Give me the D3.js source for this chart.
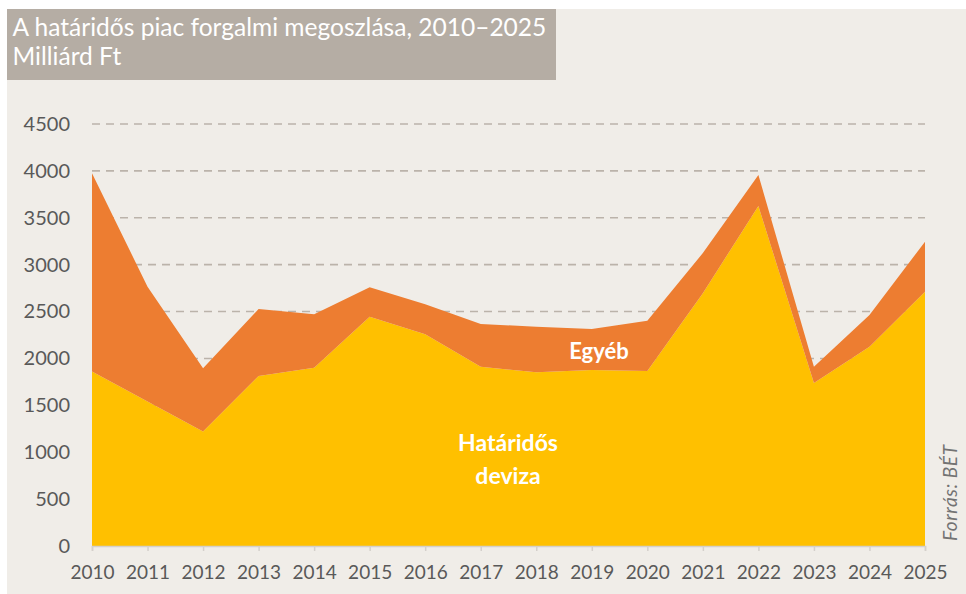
<!DOCTYPE html>
<html>
<head>
<meta charset="utf-8">
<script src="https://cdn.jsdelivr.net/npm/d3@7"></script>
<style>
  body { margin: 0; background: #ffffff; }
  svg { display: block; font-family: Lato, "Noto Sans", sans-serif; }
</style>
</head>
<body>
<script>
// A határidős piac forgalmi megoszlása (milliárd Ft)
const years = [2010, 2011, 2012, 2013, 2014, 2015, 2016, 2017, 2018, 2019, 2020, 2021, 2022, 2023, 2024, 2025]
const hataridosDeviza = [1860, 1540, 1220, 1813, 1901, 2445, 2257, 1912, 1852, 1877, 1866, 2696, 3625, 1738, 2126, 2712]
const egyeb = [2115, 1225, 675, 714, 569, 313, 320, 455, 487, 437, 537, 428, 331, 174, 337, 533]
const yTicks = [0, 500, 1000, 1500, 2000, 2500, 3000, 3500, 4000, 4500]
const titleLines = ["A határidős piac forgalmi megoszlása, 2010–2025", "Milliárd Ft"]

const width = 966, height = 594
const margin = { left: 92, right: 41, top: 124, bottom: 48 }

const svg = d3.select("body").append("svg")
  .attr("width", width)
  .attr("height", height)

// panel background
svg.append("rect")
  .attr("x", 7).attr("y", 9)
  .attr("width", width - 7).attr("height", height - 9)
  .attr("fill", "#f0ede8")

// title box
svg.append("rect")
  .attr("x", 7).attr("y", 9)
  .attr("width", 549).attr("height", 71)
  .attr("fill", "#b5ada4")

let t1 = svg.append("text")
  .attr("x", 12.5).attr("y", 35.7)
  .attr("fill", "#ffffff")
  .attr("font-size", 22)
  .text(titleLines[0])
// fit first line to the width seen in the picture
let fs = 22 * 534 / t1.node().getComputedTextLength()
t1.attr("font-size", fs)

svg.append("text")
  .attr("x", 12.5).attr("y", 65)
  .attr("fill", "#ffffff")
  .attr("font-size", fs)
  .text(titleLines[1])

let x = d3.scaleLinear()
  .domain([years[0], years[years.length - 1]])
  .range([margin.left, width - margin.right])

let y = d3.scaleLinear()
  .domain([0, 4500])
  .range([height - margin.bottom, margin.top])

// gridlines
svg.append("g")
  .selectAll("line")
  .data(yTicks.filter(d => d > 0))
  .enter()
  .append("line")
  .attr("x1", x.range()[0])
  .attr("x2", x.range()[1])
  .attr("y1", d => y(d))
  .attr("y2", d => y(d))
  .attr("stroke", "#bbb3aa")
  .attr("stroke-width", 1.6)
  .attr("stroke-dasharray", "8,6")

// stacked areas
let rows = years.map((yr, i) => ({ year: yr, hatarido: hataridosDeviza[i], egyeb: egyeb[i] }))
let stack = d3.stack().keys(["hatarido", "egyeb"])
let series = stack(rows)
let colors = { hatarido: "#ffc000", egyeb: "#ed7d31" }

let area = d3.area()
  .x(d => x(d.data.year))
  .y0(d => y(d[0]))
  .y1(d => y(d[1]))

svg.append("g")
  .selectAll("path")
  .data(series)
  .enter()
  .append("path")
  .attr("d", area)
  .attr("fill", d => colors[d.key])

// x axis
let xAxis = svg.append("g")
  .attr("transform", `translate(0,${y(0)})`)
  .call(d3.axisBottom(x).tickValues(years).tickFormat(d3.format("d")).tickSize(5).tickPadding(15))
xAxis.selectAll("path, line").attr("stroke", "#d4d0cb").attr("stroke-width", 1.5)
xAxis.selectAll("text").attr("fill", "#595959").attr("font-size", 19).attr("font-family", "Lato, sans-serif")

// y axis labels
let yAxis = svg.append("g")
  .attr("transform", `translate(${margin.left},0)`)
  .call(d3.axisLeft(y).tickValues(yTicks).tickFormat(d3.format("d")).tickSize(0).tickPadding(22))
yAxis.select(".domain").remove()
yAxis.selectAll("text").attr("fill", "#595959").attr("font-size", 20).attr("font-family", "Lato, sans-serif")

// series labels
svg.append("text")
  .attr("x", 599).attr("y", 359)
  .attr("text-anchor", "middle")
  .attr("fill", "#ffffff")
  .attr("font-weight", "bold")
  .attr("font-size", 22)
  .text("Egyéb")

svg.append("text")
  .attr("x", 508).attr("y", 451)
  .attr("text-anchor", "middle")
  .attr("fill", "#ffffff")
  .attr("font-weight", "bold")
  .attr("font-size", 23)
  .text("Határidős")

svg.append("text")
  .attr("x", 508).attr("y", 484)
  .attr("text-anchor", "middle")
  .attr("fill", "#ffffff")
  .attr("font-weight", "bold")
  .attr("font-size", 23)
  .text("deviza")

// source
svg.append("text")
  .attr("transform", "translate(957,541) rotate(-90)")
  .attr("fill", "#737373")
  .attr("font-style", "italic")
  .attr("font-size", 19)
  .attr("letter-spacing", 0.6)
  .text("Forrás: BÉT")
</script>
</body>
</html>
